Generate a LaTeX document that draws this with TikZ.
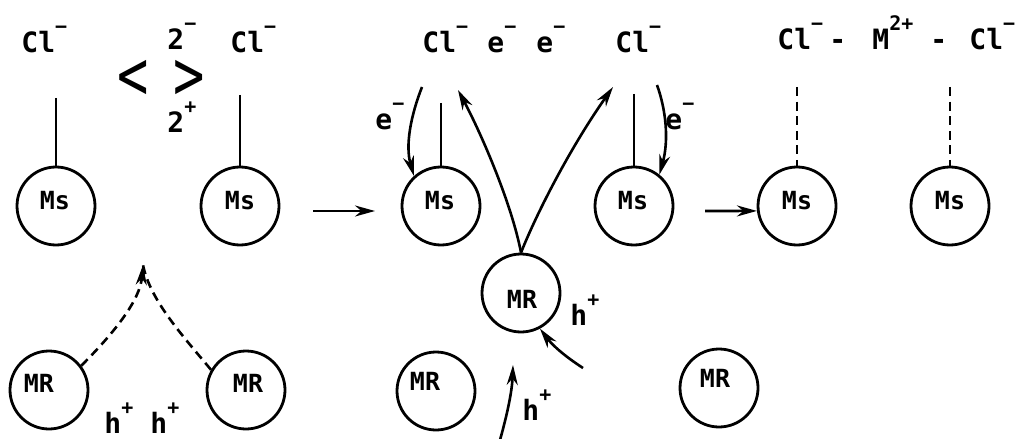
\documentclass[tikz,border=0pt]{standalone}
\usepackage{fontspec}
\setmainfont{DejaVu Sans Mono}
\usetikzlibrary{arrows.meta}
\newcommand{\up}[1]{\raisebox{9.5pt}{\fontsize{10}{10}\selectfont\bfseries #1}}
\begin{document}
\begin{tikzpicture}[x=0.5pt,y=-0.5pt,
  ball/.style={circle,draw,line width=1.4pt,minimum size=39pt,inner sep=0pt},
  inlbl/.style={font=\fontsize{12.5}{14}\selectfont\bfseries,inner sep=0pt},
  lbl/.style={font=\fontsize{14}{16}\selectfont\bfseries,inner sep=0pt,anchor=base west},
  big/.style={font=\fontsize{26}{26}\selectfont,inner sep=0pt},
  bond/.style={line width=1.3pt},
  dbond/.style={line width=1.3pt,dash pattern=on 4.5pt off 2.8pt},
  arr/.style={line width=1.3pt,-{Stealth[length=10pt,width=5.5pt]}},
  darr/.style={dbond,-{Stealth[length=10pt,width=5.5pt]}}]
\useasboundingbox[fill=white] (0,0) rectangle (1020,438);

% ---- circles
\node[ball] (ms1) at (56,206) {};
\node[ball] (ms2) at (240,206) {};
\node[ball] (ms3) at (441,206) {};
\node[ball] (ms4) at (634,206) {};
\node[ball] (ms5) at (797,206) {};
\node[ball] (ms6) at (950,206) {};
\node[ball] (mr1) at (49,390) {};
\node[ball] (mr2) at (246,390) {};
\node[ball] (mr3) at (436,391) {};
\node[ball] (mr4) at (719,388) {};
\node[ball] (mrm) at (521,293) {};

% ---- circle texts
\node[inlbl] (ms1t) at (55,201) {Ms};
\node[inlbl] (ms2t) at (240,201) {Ms};
\node[inlbl] (ms3t) at (440,201) {Ms};
\node[inlbl] (ms4t) at (633,201) {Ms};
\node[inlbl] (ms5t) at (797,201) {Ms};
\node[inlbl] (ms6t) at (950,201) {Ms};
\node[inlbl] (mr1t) at (39,383) {MR};
\node[inlbl] (mr2t) at (248,383) {MR};
\node[inlbl] (mr3t) at (425,381) {MR};
\node[inlbl] (mr4t) at (715,378) {MR};
\node[inlbl] (mrmt) at (522,299) {MR};

% ---- top labels, left part
\node[lbl] (cl1) at (21,53) {Cl\up{−}};
\node[lbl] (two1) at (167,50) {2\up{−}};
\node[lbl] (two2) at (167,133) {2\up{+}};
\node[lbl] (cl2) at (230,53) {Cl\up{−}};
\node[big] (lt) at (133,80) {\scalebox{1}[1.35]{<}};
\node[big] (gt) at (189,80) {\scalebox{1}[1.35]{>}};

% ---- top labels, middle part
\node[lbl] (cl3) at (422,53) {Cl\up{−}};
\node[lbl] (e1) at (487,53) {e\up{−}};
\node[lbl] (e2) at (536,53) {e\up{−}};
\node[lbl] (cl4) at (615,53) {Cl\up{−}};
\node[lbl] (e3) at (375,130) {e\up{−}};
\node[lbl] (e4) at (665,130) {e\up{−}};

% ---- top labels, right part
\node[lbl] (cl5) at (777,50) {Cl\up{−}};
\node[lbl] (d1) at (829,50) {-};
\node[lbl] (m2) at (872,50) {M\up{2+}};
\node[lbl] (d2) at (930,50) {-};
\node[lbl] (cl6) at (969,50) {Cl\up{−}};

% ---- h+ labels
\node[lbl] (h1) at (104,433) {h\up{+}};
\node[lbl] (h2) at (150,433) {h\up{+}};
\node[lbl] (h3) at (570,325) {h\up{+}};
\node[lbl] (h4) at (522,420) {h\up{+}};

% ---- bonds
\coordinate (b1) at (56,98);
\coordinate (b2) at (240,95);
\coordinate (b3) at (441,103);
\coordinate (b4) at (634,94);
\coordinate (b5) at (797,87);
\coordinate (b6) at (950,87);
\draw[bond] (b1) -- (ms1.north);
\draw[bond] (b2) -- (ms2.north);
\draw[bond] (b3) -- (ms3.north);
\draw[bond] (b4) -- (ms4.north);
\draw[dbond] (b5) -- (ms5.north);
\draw[dbond] (b6) -- (ms6.north);

% ---- reaction arrows
\coordinate (ra1) at (313,211);
\coordinate (ra1e) at (375,211);
\coordinate (ra2) at (705,211);
\draw[arr] (ra1) -- (ra1e);
\draw[arr] (ra2) -- (ms5.187);

% ---- electron arrows
\coordinate (es1) at (422,87);
\coordinate (es2) at (657,85);
\draw[arr] (es1) .. controls (411,115) and (405,145) .. (ms3.132);
\draw[arr] (es2) .. controls (666,110) and (669,140) .. (ms4.51);

% ---- arrows from MR to Cl
\coordinate (tl) at (458,90);
\coordinate (tr) at (613,87);
\draw[arr] (mrm.north) .. controls (512,205) and (482,135) .. (tl);
\draw[arr] (mrm.north) .. controls (538,210) and (572,145) .. (tr);

% ---- hole arrows
\coordinate (hs1) at (583,368);
\coordinate (hs2) at (500,440);
\coordinate (hte) at (513,365);
\draw[arr] (hs1) .. controls (566,357) and (553,346) .. (mrm.-62);
\draw[arr] (hs2) .. controls (507,415) and (512,392) .. (hte);

% ---- dashed hole migration
\coordinate (apex) at (143,265);
\draw[darr] (mr1.37) .. controls (115,332) and (140,300) .. (apex);
\draw[dbond] (mr2.150) .. controls (182,335) and (150,300) .. (apex);
\end{tikzpicture}
\end{document}
